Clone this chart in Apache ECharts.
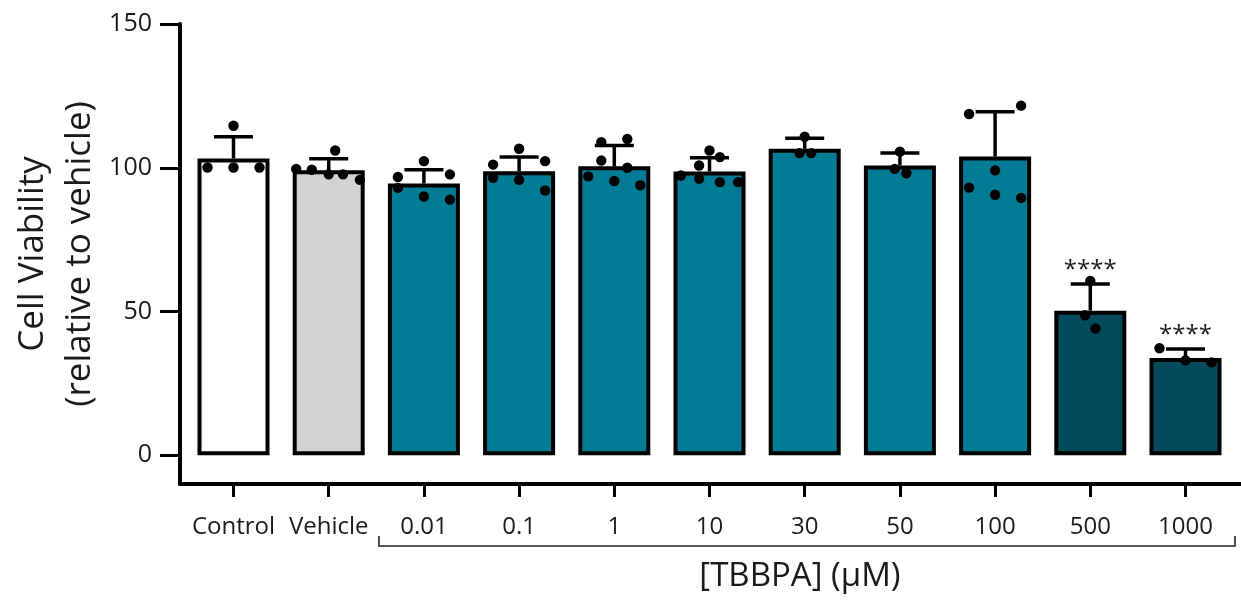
<!DOCTYPE html>
<html>
<head>
<meta charset="utf-8">
<script src="https://cdn.jsdelivr.net/npm/echarts@6/dist/echarts.min.js"></script>
<style>
  html, body { margin: 0; padding: 0; background: #fff; }
  #main { width: 1241px; height: 601px; }
</style>
</head>
<body>
<div id="main"></div>
<script>
// groups on the x axis
var categories = ['Control', 'Vehicle', '0.01', '0.1', '1', '10', '30', '50', '100', '500', '1000'];
// bar heights (mean) and upper error (SD)
var means = [103.2, 99.1, 94.5, 98.8, 100.5, 98.7, 106.6, 100.8, 103.9, 50.3, 33.8];
var sds = [7.6, 4.0, 4.8, 4.9, 7.2, 4.8, 3.7, 4.3, 15.6, 9.3, 3.2];
var stars = ['', '', '', '', '', '', '', '', '', '****', '****'];
// individual replicates per group, and their swarm slot
var replicates = [
    [114.6, 100.1, 100.1, 100.1],
    [106.0, 99.6, 99.3, 97.7, 97.7, 95.8],
    [102.3, 96.8, 97.7, 93.0, 90.0, 88.9],
    [106.6, 101.1, 102.3, 96.5, 95.8, 92.1],
    [110.0, 108.9, 102.5, 100.0, 97.0, 95.4, 93.9],
    [106.0, 103.7, 100.8, 97.3, 96.2, 95.0, 95.0],
    [110.8, 105.1, 105.1],
    [105.6, 99.6, 98.1],
    [121.6, 118.7, 99.1, 93.1, 90.6, 89.5],
    [60.6, 48.7, 44.1],
    [37.2, 33.0, 32.3]
];
var slots = [
    [0, -2, 0, 2],
    [0.5, -2.5, -1.3, 0, 1.1, 2.4],
    [0, -2, 2, -2, 0, 2],
    [0, -2, 2, -2, 0, 2],
    [1, -1, -1, 1, -2, 0, 2],
    [0, 0.8, -0.8, -2.2, -0.8, 0.8, 2.2],
    [0, -0.4, 0.5],
    [0, -0.4, 0.5],
    [2, -2, 0, -2, 0, 2],
    [0, -0.4, 0.4],
    [-2, 0, 2]
];
var yTicks = [0, 50, 100, 150];

var barColors = ['#ffffff', '#d3d3d3', '#027c95', '#027c95', '#027c95', '#027c95', '#027c95', '#027c95', '#027c95', '#034a5d', '#034a5d'];
var FONT = '"Open Sans", "DejaVu Sans", sans-serif';
var TXT = '#1a1a1a';

var barData = means.map(function (m, i) { return [i, m]; });
var errData = means.map(function (m, i) { return [i, m, sds[i]]; });
var dotData = [];
replicates.forEach(function (vals, i) {
    vals.forEach(function (v, k) { dotData.push([i, v, slots[i][k]]); });
});
var catIdx = categories.map(function (c, i) { return i; });

var myChart = echarts.init(document.getElementById('main'));

var option = {
    backgroundColor: '#fff',
    animation: false,
    grid: { left: 180, right: 0, top: 24, bottom: 117 },
    xAxis: {
        type: 'value',
        min: -0.562,
        max: 10.583,
        splitLine: { show: false },
        axisLine: { show: true, onZero: false, lineStyle: { color: '#000', width: 4 } },
        axisTick: { show: true, customValues: catIdx, length: 13, lineStyle: { color: '#000', width: 3 } },
        axisLabel: {
            customValues: catIdx,
            formatter: function (v) { return categories[Math.round(v)]; },
            color: TXT, fontFamily: FONT, fontSize: 24, margin: 31
        }
    },
    yAxis: {
        type: 'value',
        min: -10,
        max: 150,
        splitLine: { show: false },
        axisLine: { show: true, onZero: false, lineStyle: { color: '#000', width: 4 } },
        axisTick: { show: true, customValues: yTicks, length: 20, lineStyle: { color: '#000', width: 3 } },
        axisLabel: { customValues: yTicks, color: TXT, fontFamily: FONT, fontSize: 25, margin: 28 },
        name: 'Cell Viability\n(relative to vehicle)',
        nameLocation: 'middle',
        nameGap: 76,
        nameMoveOverlap: false,
        nameTextStyle: { color: TXT, fontFamily: FONT, fontSize: 35, lineHeight: 47 }
    },
    series: [
        {
            type: 'bar',
            data: barData,
            barWidth: 72,
            z: 2,
            itemStyle: {
                color: function (p) { return barColors[p.dataIndex]; },
                borderColor: '#000',
                borderWidth: 4
            }
        },
        {
            type: 'custom',
            data: errData,
            z: 3,
            renderItem: function (params, api) {
                var x = api.value(0), m = api.value(1), s = api.value(2);
                var base = api.coord([x, m]);
                var top = api.coord([x, m + s]);
                var children = [
                    { type: 'line', shape: { x1: base[0], y1: base[1], x2: top[0], y2: top[1] }, style: { stroke: '#000', lineWidth: 3.5 } },
                    { type: 'line', shape: { x1: top[0] - 19.5, y1: top[1], x2: top[0] + 19.5, y2: top[1] }, style: { stroke: '#000', lineWidth: 3.5 } }
                ];
                var st = stars[params.dataIndex];
                if (st) {
                    children.push({
                        type: 'text',
                        style: { text: st, x: top[0], y: top[1] - 14, align: 'center', verticalAlign: 'middle', fill: TXT, font: '24px ' + FONT }
                    });
                }
                return { type: 'group', children: children };
            }
        },
        {
            type: 'custom',
            data: dotData,
            z: 4,
            renderItem: function (params, api) {
                var p = api.coord([api.value(0), api.value(1)]);
                return {
                    type: 'circle',
                    shape: { cx: p[0] + api.value(2) * 13, cy: p[1], r: 5.2 },
                    style: { fill: '#000' }
                };
            }
        }
    ]
};
myChart.setOption(option);

// bracket under the TBBPA doses and its title
var left = myChart.convertToPixel({ gridIndex: 0 }, [1.528, 0]);
var right = myChart.convertToPixel({ gridIndex: 0 }, [10.52, 0]);
var axisY = myChart.convertToPixel({ gridIndex: 0 }, [0, -10])[1];
var by = axisY + 62;
myChart.setOption({
    graphic: [
        {
            type: 'polyline',
            shape: { points: [[left[0], by - 10], [left[0], by], [right[0], by], [right[0], by - 10]] },
            style: { stroke: '#222', lineWidth: 1.6, fill: null }
        },
        {
            type: 'text',
            style: {
                text: '[TBBPA] (\u03bcM)',
                x: (left[0] + right[0]) / 2 - 7,
                y: by + 31,
                align: 'center',
                verticalAlign: 'middle',
                fill: TXT,
                font: '33px ' + FONT
            }
        }
    ]
});
</script>
</body>
</html>
